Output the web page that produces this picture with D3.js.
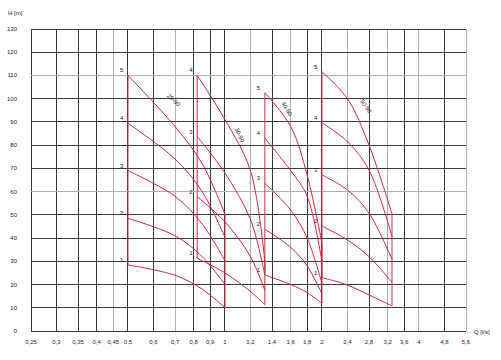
<!DOCTYPE html>
<html>
<head>
<meta charset="utf-8">
<script src="https://cdn.jsdelivr.net/npm/d3@7"></script>
<style>
  body { margin: 0; background: #fff; }
  text { font-family: "Liberation Sans", Arial, sans-serif; fill: #222; }
</style>
</head>
<body>
<div id="chart"></div>
<script>
// grid / tick values
var qTicks = [0.25, 0.3, 0.35, 0.4, 0.45, 0.5, 0.6, 0.7, 0.8, 0.9, 1, 1.2, 1.4, 1.6, 1.8, 2, 2.4, 2.8, 3.2, 3.6, 4, 4.8, 5.6];
var qGrey = [0.45, 0.7, 1.2, 1.6, 2.4, 3.2, 4, 5.6];
var hTicks = [0, 10, 20, 30, 40, 50, 60, 70, 80, 90, 100, 110, 120, 130];
var hGrey = [110, 60];

// pump families
var familyNames = ["25-90", "30-90", "40-90", "50-90"];

// 25-90 : flow points and head per stage (1..5)
var qA = [0.5, 0.7, 0.85, 1.0];
var hA = [
  [28.4, 24, 18, 10],
  [48.5, 41, 32, 20],
  [69, 58, 46, 30.3],
  [89.4, 74, 60, 40.3],
  [110, 88, 72, 50.3]
];

// 30-90 : stages 1..4
var qB = [0.82, 1.0, 1.2, 1.33];
var hB = [
  [31.3, 25, 17, 11.3],
  [57.8, 47, 32, 17.5],
  [83.7, 68, 48, 24],
  [110, 91, 69, 29.8]
];

// 40-90 : stages 1..5
var qC = [1.33, 1.6, 1.8, 2.0];
var hC = [
  [24.1, 20, 16.5, 11.9],
  [43.8, 36, 28, 16],
  [63.6, 52, 40, 20.5],
  [83, 69, 58, 29.8],
  [102.6, 88, 67, 37.8]
];

// 50-90 : stages 1..5
var qD = [2.0, 2.4, 2.8, 3.3];
var hD = [
  [23, 19.8, 15.5, 10.8],
  [45.2, 39.2, 32, 21],
  [67.2, 60.7, 50.7, 30.9],
  [89.7, 81.5, 69.3, 40.6],
  [111.6, 100, 80, 50.4]
];

var width = 501, height = 360;
var margin = {top: 29, right: 35, bottom: 29, left: 31};

var svg = d3.select("#chart").append("svg")
  .attr("width", width)
  .attr("height", height);

var x = d3.scaleLog()
  .domain([0.25, 5.6])
  .range([margin.left, width - margin.right]);

var y = d3.scaleLinear()
  .domain([0, 130])
  .range([height - margin.bottom, margin.top]);

var lineColor = function(grey) { return grey ? "#b0b0b0" : "#3a3a3a"; };

// vertical grid
svg.append("g").selectAll("line")
  .data(qTicks)
  .enter().append("line")
    .attr("x1", function(d) { return x(d); })
    .attr("x2", function(d) { return x(d); })
    .attr("y1", y(0))
    .attr("y2", y(130))
    .attr("stroke", function(d) { return lineColor(qGrey.indexOf(d) >= 0); })
    .attr("stroke-width", 1)
    .attr("shape-rendering", "crispEdges");

// horizontal grid
svg.append("g").selectAll("line")
  .data(hTicks)
  .enter().append("line")
    .attr("x1", x(0.25))
    .attr("x2", x(5.6))
    .attr("y1", function(d) { return y(d); })
    .attr("y2", function(d) { return y(d); })
    .attr("stroke", function(d) { return lineColor(hGrey.indexOf(d) >= 0); })
    .attr("stroke-width", 1)
    .attr("shape-rendering", "crispEdges");

// tick labels
var fmt = function(d) { return String(d).replace(".", ","); };

svg.append("g").selectAll("text")
  .data(qTicks)
  .enter().append("text")
    .attr("x", function(d) { return x(d); })
    .attr("y", y(0) + 13)
    .attr("text-anchor", "middle")
    .attr("font-size", 6)
    .text(fmt);

svg.append("g").selectAll("text")
  .data(hTicks)
  .enter().append("text")
    .attr("x", 17)
    .attr("y", function(d) { return y(d) + 2; })
    .attr("text-anchor", "end")
    .attr("font-size", 6)
    .text(function(d) { return d; });

svg.append("text").attr("x", 8).attr("y", 15).attr("font-size", 6).text("H [m]");
svg.append("text").attr("x", 474).attr("y", 334).attr("font-size", 6).text("Q [l/s]");

// curves
var red = "#cc2644";
var line = d3.line()
  .x(function(d) { return x(d[0]); })
  .y(function(d) { return y(d[1]); })
  .curve(d3.curveCatmullRom.alpha(0.5));

var families = [
  {q: qA, h: hA, name: familyNames[0], lbl: [0.64, 101, 42]},
  {q: qB, h: hB, name: familyNames[1], lbl: [1.04, 87, 64]},
  {q: qC, h: hC, name: familyNames[2], lbl: [1.45, 98, 58]},
  {q: qD, h: hD, name: familyNames[3], lbl: [2.55, 99, 55]}
];

families.forEach(function(f) {
  var g = svg.append("g");
  var n = f.q.length;

  g.selectAll("path")
    .data(f.h)
    .enter().append("path")
      .attr("d", function(hs) { return line(hs.map(function(h, i) { return [f.q[i], h]; })); })
      .attr("fill", "none")
      .attr("stroke", red)
      .attr("stroke-width", 1);

  // start and end verticals
  [0, n - 1].forEach(function(i) {
    var hs = f.h.map(function(r) { return r[i]; });
    g.append("line")
      .attr("x1", x(f.q[i])).attr("x2", x(f.q[i]))
      .attr("y1", y(d3.min(hs))).attr("y2", y(d3.max(hs)))
      .attr("stroke", red)
      .attr("stroke-width", 1);
  });

  // stage numbers
  g.selectAll("text.stage")
    .data(f.h)
    .enter().append("text")
      .attr("class", "stage")
      .attr("x", x(f.q[0]) - 8)
      .attr("y", function(hs) { return y(hs[0]) - 3; })
      .attr("font-size", 6)
      .text(function(hs, i) { return i + 1; });

  // family name along top curve
  g.append("text")
    .attr("transform", "translate(" + (x(f.lbl[0]) + 4) + "," + y(f.lbl[1]) + ") rotate(" + f.lbl[2] + ")")
    .attr("font-size", 6)
    .text(f.name);
});
</script>
</body>
</html>
